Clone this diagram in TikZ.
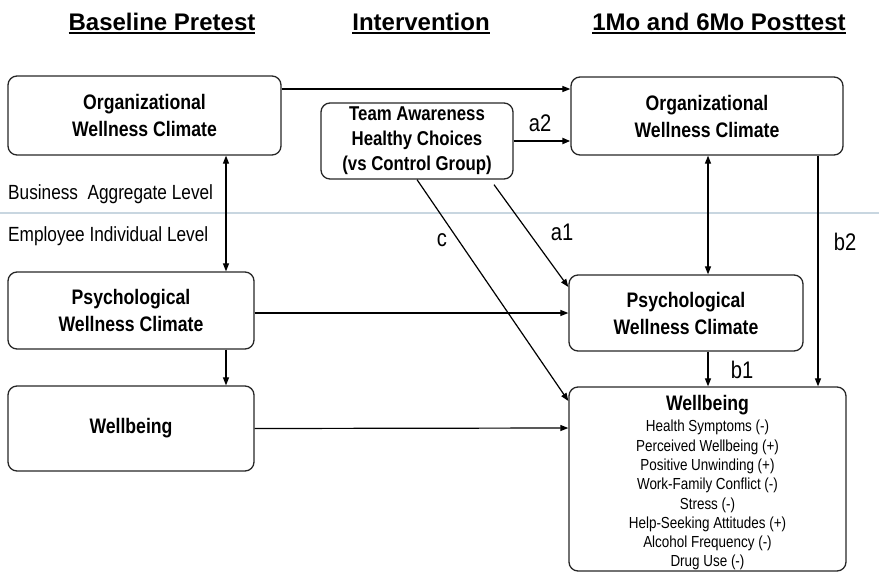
\documentclass[tikz,border=0pt]{standalone}
\usepackage{fontspec}
\setmainfont{Liberation Sans}
\newfontfamily\nar{Liberation Sans}[FakeStretch=0.84]
\usetikzlibrary{arrows.meta}
\newcommand\hdline[1]{\setbox0\hbox{#1}\rlap{\rule[-4pt]{\wd0}{2pt}}\box0}
\definecolor{sepline}{RGB}{200,214,224}
\begin{document}
\begin{tikzpicture}[x=1pt,y=-1pt,
  box/.style={draw=black!85, line width=1.3pt, rounded corners=9pt, inner sep=2pt, align=center,
    font=\nar\bfseries\fontsize{21}{27}\selectfont},
  teambox/.style={box, font=\nar\bfseries\fontsize{20}{25}\selectfont},
  arr/.style={line width=1.2pt, -{Triangle[length=8pt,width=6pt]}},
  thickarr/.style={line width=2pt, -{Triangle[length=8pt,width=6pt]}},
  darr/.style={line width=1.2pt, {Triangle[length=8pt,width=6pt]}-{Triangle[length=8pt,width=6pt]}},
  hd/.style={font=\bfseries\fontsize{24}{28}\selectfont, inner sep=0pt, anchor=base},
  lvl/.style={font=\nar\fontsize{20.5}{24}\selectfont, anchor=base west, inner sep=0pt},
  lab/.style={font=\nar\fontsize{24}{28}\selectfont, inner sep=0pt},
  wbtext/.style={font=\nar\fontsize{16}{19.3}\selectfont, align=center, inner sep=0pt, anchor=north},
]
\useasboundingbox (0,0) rectangle (879,574);

% separator line
\coordinate (sepL) at (0,213);
\coordinate (sepR) at (879,213);
\draw[sepline, line width=1.5pt] (sepL) -- (sepR);

% headings
\node[hd] (h1) at (162,30) {\hdline{Baseline Pretest}};
\node[hd] (h2) at (421,30) {\hdline{Intervention}};
\node[hd] (h3) at (719,30) {\hdline{1Mo and 6Mo Posttest}};

% level labels
\node[lvl] (bal) at (8,199.3) {Business~~Aggregate Level};
\node[lvl] (eil) at (8,241.7) {Employee Individual Level};

% boxes
\node[box, minimum width=273pt, minimum height=79pt] (owcL) at (144.5,115.5) {Organizational\\Wellness Climate};
\node[teambox, minimum width=192pt, minimum height=76pt] (team) at (417,141) {Team Awareness\\Healthy Choices\\(vs Control Group)};
\node[box, minimum width=272pt, minimum height=78pt] (owcR) at (707,116) {Organizational\\Wellness Climate};
\node[box, minimum width=246pt, minimum height=77pt] (pwcL) at (131,310.5) {Psychological\\Wellness Climate};
\node[box, minimum width=246pt, minimum height=85pt] (wbL) at (131,428.5) {Wellbeing};
\node[box, minimum width=234pt, minimum height=76pt] (pwcR) at (686,313) {Psychological\\Wellness Climate};
\node[box, minimum width=277pt, minimum height=184pt] (wbR) at (707.5,479) {};
\node[wbtext] (wbRt) at (707.5,395.4) {{\fontsize{21}{21}\selectfont\bfseries Wellbeing}\\[1.7pt]
Health Symptoms (-)\\
Perceived Wellbeing (+)\\
Positive Unwinding (+)\\
Work-Family Conflict (-)\\
Stress (-)\\
Help-Seeking Attitudes (+)\\
Alcohol Frequency (-)\\
Drug Use (-)};

% helper x positions
\coordinate (xL) at (226,0);
\coordinate (xM) at (708,0);
\coordinate (xB) at (818,0);

% connectors
\draw[arr] ([yshift=26.5pt]owcL.east) -- ([yshift=27pt]owcR.west);
\draw[thickarr] (team.east) -- ([yshift=-25pt]owcR.west);
\draw[darr] (owcL.south -| xL) -- (pwcL.north -| xL);
\draw[arr] ([yshift=-2.5pt]pwcL.east) -- (pwcR.west);
\draw[arr] (pwcL.south -| xL) -- (wbL.north -| xL);
\draw[arr] (wbL.east) -- ([yshift=51pt]wbR.west);
\draw[darr] (owcR.south -| xM) -- (pwcR.north -| xM);
\draw[arr] (owcR.south -| xB) -- (wbR.north -| xB);
\draw[arr] (pwcR.south -| xM) -- (wbR.north -| xM);
\draw[arr] ([xshift=77pt,yshift=-5pt]team.south) -- ([yshift=26pt]pwcR.west);
\draw[arr] (team.south) -- ([yshift=78pt]wbR.west);

% path labels
\node[lab] (la2) at (540,123) {a2};
\node[lab] (la1) at (562,232) {a1};
\node[lab] (lc) at (442,240) {c};
\node[lab] (lb1) at (742,370) {b1};
\node[lab] (lb2) at (845,242) {b2};
\end{tikzpicture}
\end{document}
